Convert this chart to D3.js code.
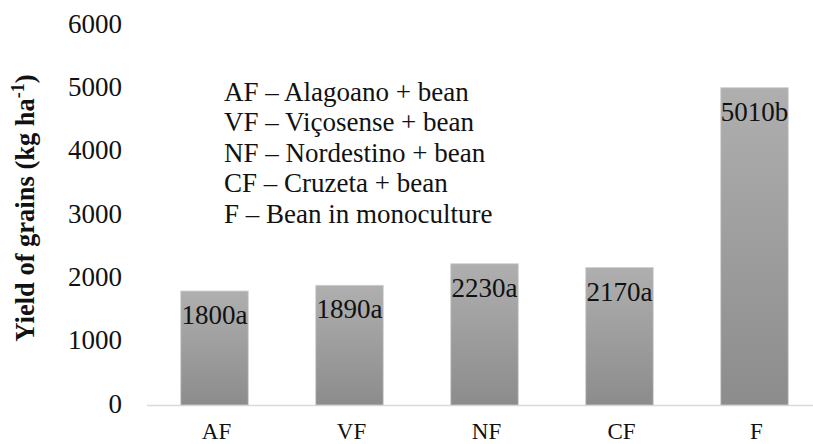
<!DOCTYPE html>
<html><head><meta charset="utf-8">
<script src="https://cdn.jsdelivr.net/npm/d3@7"></script>
<style>body{margin:0;background:#fff}svg{display:block}
text{font-family:"Liberation Serif","Tinos","Times New Roman",Times,"Nimbus Roman","DejaVu Serif",serif}</style>
</head><body><svg id="c" width="813" height="444"></svg>
<script>
const categories = ["AF","VF","NF","CF","F"];
const values = [1800,1890,2230,2170,5010];
const letters = ["a","a","a","a","b"];
const yTicks = [0,1000,2000,3000,4000,5000,6000];
const legendLines = ["AF \u2013 Alagoano + bean","VF \u2013 Vi\u00e7osense + bean","NF \u2013 Nordestino + bean","CF \u2013 Cruzeta + bean","F \u2013 Bean in monoculture"];

const svg = d3.select("#c");
const x = d3.scaleBand().domain(categories).range([147, 822]).paddingInner(0.5).paddingOuter(0.25);
const y = d3.scaleLinear().domain([0, 6000]).range([405, 25]);

const defs = svg.append("defs");
const g = defs.append("linearGradient").attr("id","bg").attr("x1",0).attr("y1",0).attr("x2",0).attr("y2",1);
g.append("stop").attr("offset","0%").attr("stop-color","#afafaf");
g.append("stop").attr("offset","100%").attr("stop-color","#8c8c8c");

// y tick labels
svg.append("g").selectAll("text").data(yTicks).join("text")
  .attr("x", 122).attr("y", d => y(d)).attr("dy", 7.5)
  .attr("text-anchor","end").attr("font-size",27).attr("fill","#111")
  .text(d => d);

// baseline axis
svg.append("line").attr("x1",147).attr("x2",813).attr("y1",y(0)+0.5).attr("y2",y(0)+0.5)
  .attr("stroke","#d9d9d9").attr("stroke-width",1.5);

// bars
svg.append("g").selectAll("rect").data(categories).join("rect")
  .attr("x", d => x(d)).attr("width", x.bandwidth())
  .attr("y", (d,i) => y(values[i])).attr("height", (d,i) => y(0) - y(values[i]))
  .attr("fill","url(#bg)").attr("stroke","#cfcfcf").attr("stroke-width",0.8);

// bar labels
svg.append("g").selectAll("text").data(categories).join("text")
  .attr("x", d => x(d) + x.bandwidth()/2).attr("y", (d,i) => y(values[i]) + 33)
  .attr("text-anchor","middle").attr("font-size",27).attr("fill","#111")
  .text((d,i) => values[i] + letters[i]);

// x labels
svg.append("g").selectAll("text").data(categories).join("text")
  .attr("x", d => x(d) + x.bandwidth()/2 + 2).attr("y", 439)
  .attr("text-anchor","middle").attr("font-size",23).attr("fill","#111")
  .text(d => d);

// legend text
svg.append("g").selectAll("text").data(legendLines).join("text")
  .attr("x", 224).attr("y", (d,i) => 101 + i*30.4)
  .attr("font-size",27).attr("fill","#111")
  .text(d => d);

// y title
const t = svg.append("text").attr("transform","translate(34,208) rotate(-90)")
  .attr("text-anchor","middle").attr("font-size",26.5).attr("font-weight","bold").attr("fill","#111");
t.append("tspan").text("Yield of grains (kg ha");
t.append("tspan").attr("dy",-10).attr("font-size",18).text("-1");
t.append("tspan").attr("dy",10).text(")");
</script></body></html>
